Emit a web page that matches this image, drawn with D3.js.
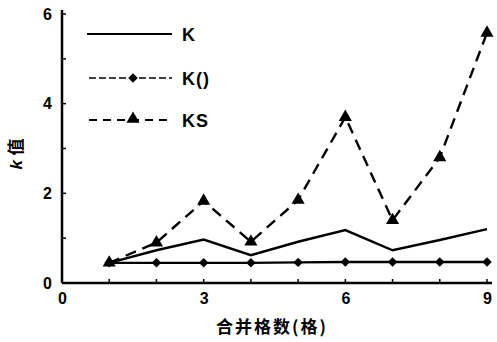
<!DOCTYPE html>
<html><head><meta charset="utf-8">
<script src="https://cdn.jsdelivr.net/npm/d3@7"></script>
<style>body{margin:0;background:#fff}</style>
</head><body>
<svg id="c" width="497" height="342"></svg>
<script>
const xValues = [1,2,3,4,5,6,7,8,9];
const kValues = [0.45,0.73,0.97,0.62,0.92,1.18,0.73,0.96,1.2];
const k0Values = [0.45,0.45,0.45,0.45,0.46,0.47,0.47,0.47,0.47];
const ksValues = [0.45,0.9,1.83,0.92,1.85,3.7,1.4,2.8,5.58];
const xTicks = [0,3,6,9];
const yTicks = [0,2,4,6];
const legendNames = ["K","K()","KS"];

const svg = d3.select("#c");
const x = d3.scaleLinear().domain([0,9]).range([62,487]);
const y = d3.scaleLinear().domain([0,6]).range([283,14]);
const font = "'Liberation Sans', Arial, sans-serif";

// axes
const xAxis = svg.append("g").attr("transform","translate(0,"+y(0)+")")
  .call(d3.axisBottom(x).tickValues(xTicks).tickSize(0).tickPadding(10).tickFormat(d3.format("d")));
xAxis.select(".domain").remove();
svg.append("line").attr("x1",x(0)).attr("x2",492).attr("y1",y(0)).attr("y2",y(0))
  .attr("stroke","#000").attr("stroke-width",2.5);
svg.append("g").selectAll("line").data(d3.range(1,10)).join("line")
  .attr("x1",d=>x(d)).attr("x2",d=>x(d)).attr("y1",y(0)).attr("y2",y(0)-4)
  .attr("stroke","#000").attr("stroke-width",1.5);
xAxis.selectAll("text").attr("font-family",font).attr("font-weight","bold").attr("font-size",16).attr("fill","#000");

const yAxis = svg.append("g").attr("transform","translate("+x(0)+",0)")
  .call(d3.axisLeft(y).tickValues(yTicks).tickSize(0).tickPadding(10).tickFormat(d3.format("d")));
yAxis.select(".domain").remove();
svg.append("line").attr("x1",x(0)).attr("x2",x(0)).attr("y1",y(0)).attr("y2",10)
  .attr("stroke","#000").attr("stroke-width",2.5);
svg.append("g").selectAll("line").data(d3.range(1,7)).join("line")
  .attr("x1",x(0)).attr("x2",x(0)+4).attr("y1",d=>y(d)).attr("y2",d=>y(d))
  .attr("stroke","#000").attr("stroke-width",1.5);
yAxis.selectAll("text").attr("font-family",font).attr("font-weight","bold").attr("font-size",16).attr("fill","#000");

// titles
svg.append("text").attr("x",272).attr("y",333).attr("text-anchor","middle")
  .attr("font-family","'Noto Sans CJK SC', sans-serif").attr("font-weight","bold").attr("font-size",17)
  .attr("letter-spacing",2).text("合并格数(格)");
const yt = svg.append("text").attr("transform","translate(22,154) rotate(-90)").attr("text-anchor","middle")
  .attr("font-family","'Noto Sans CJK SC', sans-serif").attr("font-weight","bold").attr("font-size",17);
yt.append("tspan").attr("font-style","italic").attr("font-family",font).text("k ");
yt.append("tspan").text("值");

const line = d3.line().x((d,i)=>x(xValues[i])).y(d=>y(d));
const diamond = d3.symbol().type(d3.symbolSquare).size(45);
const tri = d3.symbol().type(d3.symbolTriangle).size(75);

// KS
svg.append("path").attr("d",line(ksValues)).attr("fill","none").attr("stroke","#000")
  .attr("stroke-width",2.4).attr("stroke-dasharray","11,7");
svg.append("g").selectAll("path").data(ksValues).join("path")
  .attr("d",tri).attr("transform",(d,i)=>"translate("+x(xValues[i])+","+y(d)+")").attr("fill","#000");
// K0
svg.append("path").attr("d",line(k0Values)).attr("fill","none").attr("stroke","#000").attr("stroke-width",2.4);
svg.append("g").selectAll("path").data(k0Values).join("path")
  .attr("d",diamond).attr("transform",(d,i)=>"translate("+x(xValues[i])+","+y(d)+") rotate(45)").attr("fill","#000");
// K
svg.append("path").attr("d",line(kValues)).attr("fill","none").attr("stroke","#000").attr("stroke-width",2.4);

// legend
const ly = [34,78,120];
svg.append("line").attr("x1",87).attr("x2",172).attr("y1",ly[0]).attr("y2",ly[0]).attr("stroke","#000").attr("stroke-width",2.2);
svg.append("line").attr("x1",89).attr("x2",172).attr("y1",ly[1]).attr("y2",ly[1]).attr("stroke","#000").attr("stroke-width",1.4).attr("stroke-dasharray","7,3");
svg.append("path").attr("d",diamond).attr("transform","translate(133,"+ly[1]+") rotate(45)");
svg.append("line").attr("x1",89).attr("x2",172).attr("y1",ly[2]).attr("y2",ly[2]).attr("stroke","#000").attr("stroke-width",2).attr("stroke-dasharray","8,6");
svg.append("path").attr("d",tri).attr("transform","translate(133,"+(ly[2]-1)+")");
svg.append("g").selectAll("text").data(legendNames).join("text")
  .attr("x",182).attr("y",(d,i)=>ly[i]+7).attr("font-family",font).attr("font-weight","bold")
  .attr("font-size",18).attr("letter-spacing",1).text(d=>d);
</script>
</body></html>
